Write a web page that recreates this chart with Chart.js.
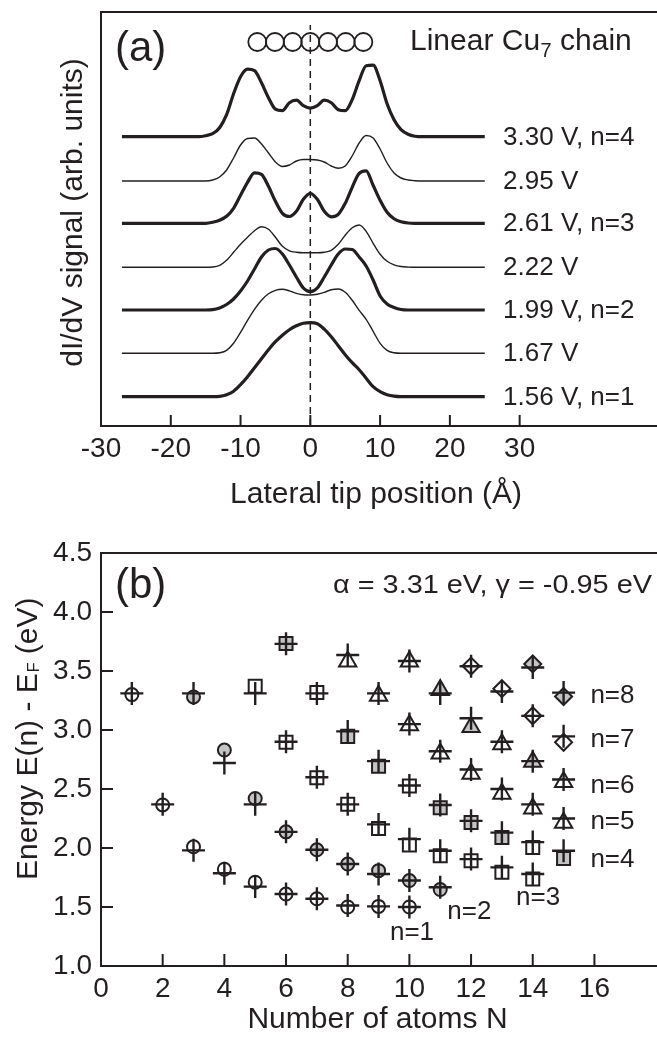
<!DOCTYPE html>
<html><head><meta charset="utf-8">
<script src="https://cdn.jsdelivr.net/npm/chart.js@4/dist/chart.umd.min.js"></script>
<style>
html,body{margin:0;padding:0;background:#fff;overflow:hidden;width:657px;height:1039px;}
#wrap{position:relative;width:657px;height:1039px;overflow:hidden;background:#fff;}
canvas{position:absolute;left:0;}
#ca{top:0;} #cb{top:520px;}
</style></head><body>
<div id="wrap"><canvas id="ca" width="670" height="520"></canvas><canvas id="cb" width="670" height="519"></canvas></div>
<script>
// ---------------- Panel (a) data ----------------
const tipPositions = [-27,-16,-15,-14,-13,-12,-11,-10,-9,-8,-7,-6,-5,-4,-3,-2,-1,0,1,2,3,4,5,6,7,8,9,10,11,12,13,14,15,16,25];
const biasLabels = ['3.30 V, n=4','2.95 V','2.61 V, n=3','2.22 V','1.99 V, n=2','1.67 V','1.56 V, n=1'];
const curveOffsets = [260,215.7,173.4,129.4,86.7,43.4,0];
const sig330 = [0, 0,1,3,9,22,43,60,67.5,66,54,39,27.5,26,34,36.5,31,28.5,31,36.5,34,27,26,37,56,71,71.5,56,33,17,7,2.5,0.5,0, 0];
const sig295 = [0, 0,0,1,4,11,23,36,42.5,43,37,28,19,14.5,16,20,21.5,21.5,21,19,15,12.8,15,25,38,45.5,43,32,18,8,3,1,0.3,0, 0];
const sig261 = [0, 0,0,1,3,7,15,28,41,50.5,49,37,22,10,6.8,12,24,30,24,12,6.5,9,20,36,50,52.5,38,23,11,4.5,1.5,0.3,0,0, 0];
const sig222 = [0, 0,0,0.3,2,7,15,23,30,36.5,40.5,38,30,21,16.5,15,14.5,14.5,14.5,15,17,23,32,39.5,42.3,36,24,13,6,2.5,0.8,0.2,0,0, 0];
const sig199 = [0, 0,0,0.3,2,5.5,11,19,29,41,53,60,61.5,56,45,33,22,18.3,22,33,45,56,61,60.5,53,44,30,14,6,2.5,0.5,0,0,0, 0];
const sig167 = [0, 0,0,0,0.5,3,10,21,33,44,53,59.5,63,64,62.5,60,58.5,58.3,59,61,63.5,64.3,61,53,43,34,22,10,3,0.5,0,0,0,0, 0];
const sig156 = [0, 0,0,0,0.3,2,5.5,12,20,29,38,47,55,61.5,67,71,73.5,74,73,67.5,60,51,42,34,27,18.5,10,5,2,0.5,0,0,0,0, 0];
const curveSignals = [sig330,sig295,sig261,sig222,sig199,sig167,sig156];
const curveThick = [true,false,true,false,true,false,true];
const chainAtomX = [-7.6,-5.07,-2.53,0,2.53,5.07,7.6];
const chainLevel = 354.7;
const xTicksA = [-30,-20,-10,0,10,20,30];

// ---------------- Panel (b) data ----------------
const atomsN = [
  [1,2,3,4,5,6,7,8,9,10],
  [3,4,5,6,7,8,9,10,11],
  [5,6,7,8,9,10,11,12,13,14],
  [6,7,8,9,10,11,12,13,14,15],
  [8,9,10,11,12,13,14,15],
  [10,11,12,13,14,15],
  [12,13,14,15],
  [14,15]
];
const expEnergy = [
  [3.30,2.365,2.01,1.82,1.71,1.61,1.57,1.50,1.505,1.50],
  [3.28,2.83,2.42,2.137,1.985,1.864,1.808,1.724,1.648],
  [3.37,2.896,2.595,2.37,2.165,2.025,1.935,1.892,1.794,1.738],
  [3.733,3.317,2.946,2.693,2.525,2.342,2.216,2.089,2.005,1.912],
  [3.58,3.29,3.04,2.80,2.63,2.46,2.335,2.215],
  [3.58,3.34,3.025,2.88,2.73,2.56],
  [3.542,3.35,3.121,2.896],
  [3.56,3.284]
];
const tbEnergy = [
  [3.31,2.37,1.98,1.786,1.673,1.61,1.57,1.513,1.505,1.50],
  [3.31,2.72,2.37,2.137,1.985,1.864,1.78,1.724,1.668],
  [3.31,2.90,2.60,2.37,2.20,2.075,1.977,1.906,1.836,1.78],
  [3.73,3.31,2.988,2.736,2.53,2.365,2.23,2.13,2.05,1.977],
  [3.635,3.31,3.05,2.82,2.665,2.50,2.37,2.25],
  [3.585,3.31,3.10,2.90,2.736,2.58],
  [3.54,3.326,3.12,2.946],
  [3.53,3.317]
];
const grayFilledN = [[],[3,4,5,6,7,8,9,10,11],[],[6,8,9,11,12,13,15],[],[11,12,14],[],[14,15]];
const levelNames = ['n=1','n=2','n=3','n=4','n=5','n=6','n=7','n=8'];
const xTicksB = [0,2,4,6,8,10,12,14,16];
const yTicksB = [1.0,1.5,2.0,2.5,3.0,3.5,4.0,4.5];

// ---------------- styles ----------------
const INK = '#231f20';
const GRAY = '#c4c4c4';
const FONT = '"Liberation Sans", Arial, Helvetica, sans-serif';
const levelShape = ['circle','circle','rect','rect','triangle','triangle','rectRot','rectRot'];
const shapeRadius = {circle:6.5, rect:9.2, triangle:10, rectRot:8.5};
const biasLabelX = 27.63;
const levelLabelPos = [[9.37,1.277],[11.23,1.458],[13.46,1.574],[15.87,1.896],[15.87,2.22],[15.87,2.531],[15.87,2.913],[15.87,3.286]];

function frameAndTicks(id, len, yTicks){
  return { id, afterDatasetsDraw(chart){
    const {ctx, chartArea:a} = chart;
    ctx.save(); ctx.strokeStyle=INK; ctx.lineWidth=2; ctx.lineCap='butt';
    ctx.beginPath();
    ctx.moveTo(a.left-1, a.top); ctx.lineTo(chart.width, a.top);
    const xs = chart.scales.x;
    xs.ticks.forEach(t=>{ const p=xs.getPixelForValue(t.value); ctx.moveTo(p,a.bottom); ctx.lineTo(p,a.bottom-len); });
    if (yTicks){ const ys=chart.scales.y; ys.ticks.forEach(t=>{ const p=ys.getPixelForValue(t.value); ctx.moveTo(a.left,p); ctx.lineTo(a.left+len,p); }); }
    ctx.stroke(); ctx.restore();
  }};
}

// ---------------- Chart (a) ----------------
const dsA = [];
curveSignals.forEach((sig,i)=>{
  dsA.push({ data: tipPositions.map((x,k)=>({x, y: curveOffsets[i]+sig[k]})), showLine:true,
    borderColor:INK, borderWidth: curveThick[i]?3.2:1.4, pointRadius:0, fill:false,
    cubicInterpolationMode:'monotone', order:1 });
});
dsA.push({ data:[{x:0,y:-29.3},{x:0,y:371.7}], showLine:true, borderColor:INK, borderWidth:1.5,
  borderDash:[7,5], pointRadius:0, tension:0, order:2 });
dsA.push({ data: chainAtomX.map(x=>({x, y:chainLevel})), showLine:false, pointStyle:'circle',
  pointRadius:9, pointBorderWidth:1.8, pointBorderColor:INK, pointBackgroundColor:'rgba(255,255,255,0)', order:0 });

const textsA = { id:'textsA', afterDraw(chart){
  const ctx=chart.ctx, xs=chart.scales.x, ys=chart.scales.y;
  ctx.save(); ctx.fillStyle=INK; ctx.textAlign='left'; ctx.textBaseline='alphabetic';
  ctx.font = `42px ${FONT}`; ctx.fillText('(a)', 115, 61);
  ctx.font = `30px ${FONT}`; let x=410; ctx.fillText('Linear Cu', x, 49.5); x += ctx.measureText('Linear Cu').width;
  ctx.font = `20px ${FONT}`; ctx.fillText('7', x+0.5, 56.5); x += ctx.measureText('7').width+0.5;
  ctx.font = `30px ${FONT}`; ctx.fillText(' chain', x, 49.5);
  ctx.font = `26px ${FONT}`; ctx.textBaseline='middle';
  biasLabels.forEach((t,i)=> ctx.fillText(t, xs.getPixelForValue(biasLabelX), ys.getPixelForValue(curveOffsets[i])+1));
  ctx.font = `30px ${FONT}`; ctx.textBaseline='alphabetic'; ctx.textAlign='center';
  ctx.fillText('Lateral tip position (Å)', 376, 503);
  ctx.translate(82, 212.5); ctx.rotate(-Math.PI/2); ctx.fillText('dI/dV signal (arb. units)', 0, 0);
  ctx.restore();
}};

new Chart(document.getElementById('ca'), {
  type:'scatter',
  data:{ datasets: dsA },
  options:{
    responsive:false, animation:false, devicePixelRatio:1, events:[],
    layout:{padding:{top:12,left:0,right:5,bottom:0}},
    plugins:{legend:{display:false}, tooltip:{enabled:false}},
    scales:{
      x:{type:'linear', min:-30, max:50,
        afterBuildTicks:s=>{ s.ticks = xTicksA.map(v=>({value:v})); },
        afterFit:s=>{ s.height = 94; },
        grid:{display:false, drawTicks:false}, border:{display:true, color:INK, width:2},
        ticks:{font:{family:FONT,size:28}, color:INK, padding:6, maxRotation:0, autoSkip:false, callback:v=>String(v)}},
      y:{type:'linear', min:-29.3, max:384.7,
        afterFit:s=>{ s.width = 101; },
        grid:{display:false, drawTicks:false}, border:{display:true, color:INK, width:2},
        ticks:{display:false}}
    }
  },
  plugins:[frameAndTicks('frameA', 11, false), textsA]
});

// ---------------- Chart (b) ----------------
const dsB = [];
atomsN.forEach((Ns,l)=>{
  dsB.push({ data: Ns.map((n,k)=>({x:n, y:expEnergy[l][k]})), showLine:false,
    pointStyle: levelShape[l], pointRadius: shapeRadius[levelShape[l]], pointBorderWidth:2,
    pointBorderColor:INK, pointBackgroundColor: Ns.map(n=> grayFilledN[l].includes(n)?GRAY:'#ffffff'), order:2 });
  dsB.push({ data: Ns.map((n,k)=>({x:n, y:tbEnergy[l][k]})), showLine:false,
    pointStyle:'cross', pointRadius:11.5, pointBorderWidth:2.4, pointBorderColor:INK, order:1 });
});

const textsB = { id:'textsB', afterDraw(chart){
  const ctx=chart.ctx, xs=chart.scales.x, ys=chart.scales.y;
  ctx.save(); ctx.fillStyle=INK; ctx.textAlign='left'; ctx.textBaseline='alphabetic';
  ctx.font = `42px ${FONT}`; ctx.fillText('(b)', 115, 77.7);
  ctx.font = `26px ${FONT}`;
  const param = 'α = 3.31 eV, γ = -0.95 eV';
  const pw = ctx.measureText(param).width;
  ctx.save(); ctx.translate(333, 73.3); ctx.scale(319/pw, 1); ctx.fillText(param, 0, 0); ctx.restore();
  ctx.textBaseline='middle';
  levelNames.forEach((t,i)=> ctx.fillText(t, xs.getPixelForValue(levelLabelPos[i][0]), ys.getPixelForValue(levelLabelPos[i][1])));
  ctx.textBaseline='alphabetic'; ctx.textAlign='center'; ctx.font = `30px ${FONT}`;
  ctx.fillText('Number of atoms N', 377.5, 508);
  ctx.translate(36.7, 360); ctx.rotate(-Math.PI/2); ctx.textAlign='left';
  const t1='Energy E(n) - E'; ctx.fillText(t1,0,0); let w=ctx.measureText(t1).width;
  ctx.font = `16px ${FONT}`; ctx.fillText('F', w+1, 2); w += 1+ctx.measureText('F').width;
  ctx.font = `30px ${FONT}`; ctx.fillText(' (eV)', w, 0);
  ctx.restore();
}};

new Chart(document.getElementById('cb'), {
  type:'scatter',
  data:{ datasets: dsB },
  options:{
    responsive:false, animation:false, devicePixelRatio:1, events:[],
    layout:{padding:{top:33,left:0,right:8.7,bottom:0}},
    plugins:{legend:{display:false}, tooltip:{enabled:false}},
    scales:{
      x:{type:'linear', min:0, max:18,
        afterBuildTicks:s=>{ s.ticks = xTicksB.map(v=>({value:v})); },
        afterFit:s=>{ s.height = 73; },
        grid:{display:false, drawTicks:false}, border:{display:true, color:INK, width:2},
        ticks:{font:{family:FONT,size:28}, color:INK, padding:6, maxRotation:0, autoSkip:false, callback:v=>String(v)}},
      y:{type:'linear', min:1, max:4.5,
        afterBuildTicks:s=>{ s.ticks = yTicksB.map(v=>({value:v})); },
        afterFit:s=>{ s.width = 101; },
        grid:{display:false, drawTicks:false}, border:{display:true, color:INK, width:2},
        ticks:{font:{family:FONT,size:28}, color:INK, padding:9, autoSkip:false, callback:v=>Number(v).toFixed(1)}}
    }
  },
  plugins:[frameAndTicks('frameB', 12, true), textsB]
});
</script></body></html>
